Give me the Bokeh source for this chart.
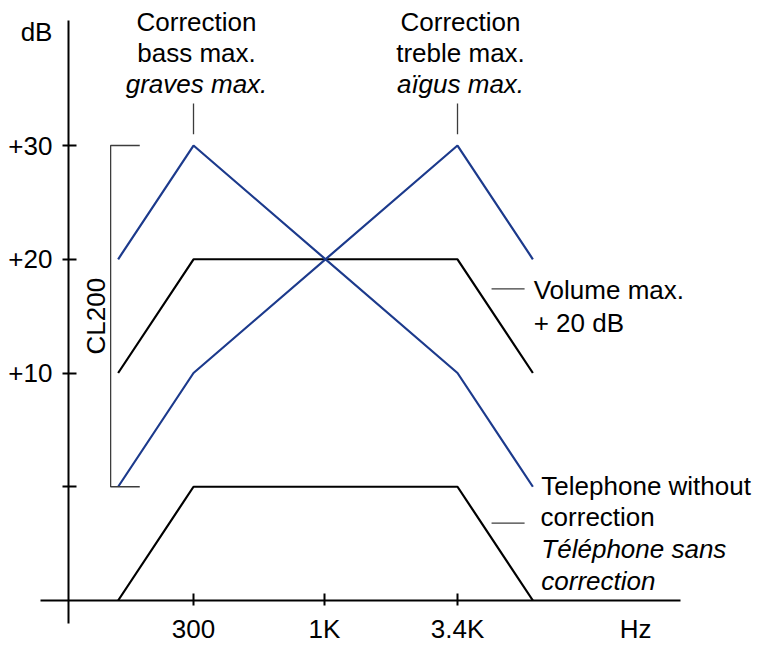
from bokeh.plotting import figure
from bokeh.models import Range1d, FixedTicker, ColumnDataSource, BasicTickFormatter
from bokeh.core.properties import value
from bokeh.embed import file_html
from bokeh.resources import INLINE
import math

# ---- data ----
freqs = [150, 300, 3400, 6800]
telephone = [-10, 0, 0, -10]
volume = [10, 20, 20, 10]
bass = [20, 30, 10, 0]
treble = [0, 10, 30, 20]

x_ticks = [300, 1000, 3400]
x_tick_labels = ["300", "1K", "3.4K"]
x_unit_pos = 17500
x_unit = "Hz"
y_ticks = [0, 10, 20, 30]
y_tick_labels = ["", "+10", "+20", "+30"]
y_unit_pos = 40
y_unit = "dB"

# axis placement (data units)
x_axis_at = -10          # dB level of the frequency axis
y_axis_at = 95           # Hz position of the level axis
x_axis_bounds = (73.5, 26400)
y_axis_bounds = (-12.0, 41)

# annotation texts
peak_x = [300, 300, 300, 3400, 3400, 3400]
peak_y = [40.9, 38.15, 35.45, 40.9, 38.15, 35.45]
peak_text = ["Correction", "bass max.", "graves max.", "Correction", "treble max.", "aïgus max."]
peak_style = ["normal", "normal", "italic", "normal", "normal", "italic"]

side_x = [6850, 6850, 7350, 7300, 7350, 7350]
side_y = [17.3, 14.4, 0.1, -2.7, -5.5, -8.25]
side_text = ["Volume max.", "+ 20 dB", "Telephone without", "correction", "Téléphone sans", "correction"]
side_style = ["normal", "normal", "normal", "normal", "italic", "italic"]

FONT = "Liberation Sans"
FS = "26px"
BLUE = "#1c3a8c"
GREY = "#3c3c3c"

p = figure(width=761, height=645, x_axis_type="log",
           x_range=Range1d(50.85, 55660), y_range=Range1d(-13.956, 42.75),
           output_backend="svg", toolbar_location=None,
           min_border=0)
p.outline_line_color = None
p.grid.visible = False

# axes: major ticks carry the labels, minor ticks draw the marks
for ax in (p.xaxis[0], p.yaxis[0]):
    ax.axis_line_width = 2
    ax.axis_line_color = "black"
    ax.major_tick_line_color = None
    ax.minor_tick_line_width = 2
    ax.minor_tick_line_color = "black"
    ax.major_label_text_font = FONT
    ax.major_label_text_font_size = FS
    ax.major_label_text_color = "black"

p.xaxis.fixed_location = x_axis_at
p.xaxis.formatter = BasicTickFormatter()
p.xaxis.ticker = FixedTicker(ticks=x_ticks + [x_unit_pos], minor_ticks=x_ticks)
p.xaxis.major_label_overrides = {t: l for t, l in zip(x_ticks + [x_unit_pos], x_tick_labels + [x_unit])}
p.xaxis.major_tick_in = 0
p.xaxis.major_tick_out = 5
p.xaxis.minor_tick_in = 7
p.xaxis.minor_tick_out = 5
p.xaxis.major_label_standoff = 8
p.xaxis.bounds = x_axis_bounds

p.yaxis.fixed_location = y_axis_at
p.yaxis.ticker = FixedTicker(ticks=y_ticks + [y_unit_pos], minor_ticks=y_ticks)
p.yaxis.major_label_overrides = {t: l for t, l in zip(y_ticks + [y_unit_pos], y_tick_labels + [y_unit])}
p.yaxis.major_tick_in = 0
p.yaxis.major_tick_out = 6
p.yaxis.minor_tick_in = 8
p.yaxis.minor_tick_out = 6
p.yaxis.major_label_standoff = 10
p.yaxis.bounds = y_axis_bounds

# curves
p.line(freqs, telephone, line_color="black", line_width=2.2)
p.line(freqs, volume, line_color="black", line_width=2.2)
p.line(freqs, bass, line_color=BLUE, line_width=2.2)
p.line(freqs, treble, line_color=BLUE, line_width=2.2)

# leader lines
p.segment(x0=[300, 3400], y0=[31.0, 31.0], x1=[300, 3400], y1=[33.7, 33.7],
          line_color=GREY, line_width=1.3)
p.segment(x0=[4650, 4650], y0=[17.4, -3.2], x1=[6300, 6300], y1=[17.4, -3.2],
          line_color=GREY, line_width=1.3)

# CL200 bracket
p.line([183, 140, 140, 183], [30, 30, 0, 0], line_color=GREY, line_width=1.3)
p.text(x=[122], y=[15], text=["CL200"], angle=math.pi / 2,
       text_align="center", text_baseline="middle",
       text_font=value(FONT), text_font_size=FS, text_color="black")

# text annotations
src_peak = ColumnDataSource(dict(x=peak_x, y=peak_y, text=peak_text, style=peak_style))
p.text(x="x", y="y", text="text", source=src_peak, x_offset=3,
       text_align="center", text_baseline="alphabetic",
       text_font=value(FONT), text_font_size=FS, text_font_style="style", text_color="black")

src_side = ColumnDataSource(dict(x=side_x, y=side_y, text=side_text, style=side_style))
p.text(x="x", y="y", text="text", source=src_side,
       text_align="left", text_baseline="alphabetic",
       text_font=value(FONT), text_font_size=FS, text_font_style="style", text_color="black")

open("out.html", "w").write(file_html(p, INLINE))
